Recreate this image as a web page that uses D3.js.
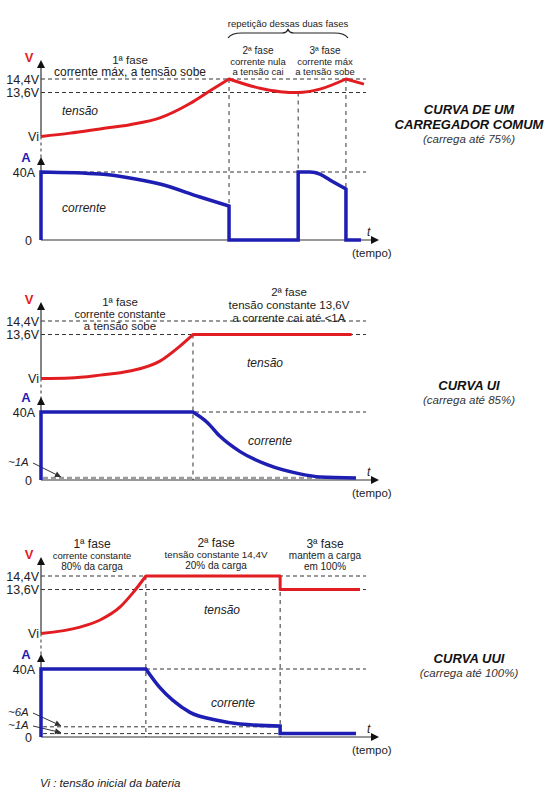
<!DOCTYPE html>
<html><head><meta charset="utf-8">
<script src="https://cdn.jsdelivr.net/npm/d3@7"></script>
<style>
body{margin:0;background:#fff}
svg{display:block}
text{font-family:"Liberation Sans",Arial,sans-serif;fill:#222}
</style>
</head><body><svg id="c" width="544" height="800"></svg>
<script>
// ---------------- DATA ----------------
const VI = 11.0; // initial battery voltage (schematic)
const voltageTickValues = [14.4, 13.6, VI];
const voltageTickLabels = ["14,4V", "13,6V", "Vi"];
const currentTickValues = [40, 0];
const currentTickLabels = ["40A", "0"];

// Panel 1: common charger  (time 0..100, voltage V, current A)
const p1Voltage = [
  [[0,11.0],[8.7,11.2],[17.7,11.45],[26.6,11.7],[35.6,12.1],[44.6,12.95],[50.6,13.7],[56.3,14.4]],
  [[56.3,14.4],[65.6,13.85],[71.6,13.65],[77,13.6],[83.5,13.8],[91.3,14.4]],
  [[91.3,14.4],[96.7,14.1]]
];
const p1Current = [
  [[0,0],[0,40]],
  [[0,40],[17.7,38.8],[26.6,36.5],[35.6,32.9],[47.6,25.3],[56.3,20]],
  [[56.3,0],[77,0]],
  [[77,40],[80.5,40],[83.5,38.8],[86.5,35.3],[91.3,30]],
  [[91.3,0],[95.8,0]]
];
const p1Phases = [56.3, 77, 91.3];
const p1PhaseTopV = [14.4, 13.6, 14.4];

// Panel 2: UI curve
const p2Voltage = [
  [[0,11.0],[8.7,11.03],[17.7,11.2],[26.6,11.44],[35.6,12.03],[41.6,12.92],[45.5,13.6]],
  [[45.5,13.6],[93,13.6]]
];
const p2Current = [
  [[0,0],[0,40]],
  [[0,40],[45.5,40]],
  [[45.5,40],[49.7,34],[53.6,25.7],[59.6,16.7],[67.7,9],[77.5,3.6],[83.5,1.8],[94.3,1.2]]
];
const p2Phases = [45.5];
const p2PhaseTopV = [13.6];
const p2GuideValues = [1.2];
const p2GuideLabels = ["~1A"];

// Panel 3: UUI curve
const p3Voltage = [
  [[0,11.0],[11.7,11.38],[17.7,11.8],[23.7,12.57],[27.5,13.4],[31.4,14.4]],
  [[31.4,14.4],[71.6,14.4]],
  [[71.6,13.6],[95.5,13.6]]
];
const p3Current = [
  [[0,0],[0,40]],
  [[0,40],[31.4,40]],
  [[31.4,40],[35.6,29],[39.5,21.5],[44.6,14.5],[52.7,9.9],[59.6,7.6],[71.6,6.4]],
  [[71.6,2],[94.3,2]]
];
const p3Phases = [31.4, 71.6];
const p3PhaseTopV = [14.4, 14.4];
const p3GuideValues = [6, 2];
const p3GuideLabels = ["~6A", "~1A"];

// Texts
const p1GroupText = "repetição dessas duas fases";
const p1PhaseText = [["1ª fase","corrente máx, a tensão sobe"],["2ª fase","corrente nula","a tensão cai"],["3ª fase","corrente máx","a tensão sobe"]];
const p2PhaseText = [["1ª fase","corrente constante","a tensão sobe"],["2ª fase","tensão constante 13,6V","a corrente cai até <1A"]];
const p3PhaseText = [["1ª fase","corrente constante","80% da carga"],["2ª fase","tensão constante 14,4V","20% da carga"],["3ª fase","mantem  a carga","em 100%"]];
const titleText = [["CURVA DE UM","CARREGADOR COMUM","(carrega até 75%)"],["CURVA UI","(carrega até 85%)"],["CURVA UUI","(carrega até 100%)"]];
const seriesNames = ["tensão","corrente"];
const footnote = "Vi : tensão inicial da bateria";

// ---------------- DRAW ----------------
const svg = d3.select("#c");
const RED = "#e21d22", BLUE = "#1e1eb2", AX = "#333";
const x = d3.scaleLinear().domain([0,100]).range([41,375]);

function segPath(segs, y) {
  const line = d3.line().x(d=>x(d[0])).y(d=>y(d[1])).curve(d3.curveMonotoneX);
  return segs.map((s,i)=>{const d=line(s); return i ? "L"+d.slice(1) : d;}).join("");
}
function dashH(g, y, x0, x1, opts={}) {
  g.append("line").attr("x1",x0).attr("x2",x1).attr("y1",y).attr("y2",y)
    .attr("stroke",opts.color||AX).attr("stroke-width",opts.w||1)
    .attr("stroke-dasharray",opts.dash||"4,3");
}
function tri(g, cx, cy, dir) {
  const p = dir==="up" ? [[cx,cy],[cx-4,cy+8],[cx+4,cy+8]] : [[cx,cy],[cx-8,cy-4],[cx-8,cy+4]];
  g.append("path").attr("d","M"+p.map(q=>q.join(",")).join("L")+"Z").attr("fill","#111");
}
function textBlock(g, cx, baselines, sizes, lines, anchor="middle") {
  lines.forEach((t,i)=>{
    g.append("text").attr("x",cx).attr("y",baselines[i]).attr("text-anchor",anchor)
      .attr("font-size",sizes[i]).text(t);
  });
}
function arrowLine(g, x0, y0, x1, y1) {
  g.append("line").attr("x1",x0).attr("y1",y0).attr("x2",x1).attr("y2",y1).attr("stroke","#333").attr("stroke-width",1);
  const ang = Math.atan2(y1-y0, x1-x0), L = 6, W = 3;
  const bx = x1 - L*Math.cos(ang), by = y1 - L*Math.sin(ang);
  const px = -Math.sin(ang)*W, py = Math.cos(ang)*W;
  g.append("path").attr("d",`M${x1},${y1}L${bx+px},${by+py}L${bx-px},${by-py}Z`).attr("fill","#333");
}

const panels = [
  {top:79, zero:240, volt:p1Voltage, cur:p1Current, phases:p1Phases, phaseTop:p1PhaseTopV, guides:[], guideLabels:[], guideEnd:97.3},
  {top:321, zero:480, volt:p2Voltage, cur:p2Current, phases:p2Phases, phaseTop:p2PhaseTopV, guides:p2GuideValues, guideLabels:p2GuideLabels, guideEnd:94.3},
  {top:576, zero:737, volt:p3Voltage, cur:p3Current, phases:p3Phases, phaseTop:p3PhaseTopV, guides:p3GuideValues, guideLabels:p3GuideLabels, guideEnd:71.6}
];

panels.forEach((P, pi) => {
  const g = svg.append("g");
  const yV = d3.scaleLinear().domain([VI, 14.4]).range([P.top+57.5, P.top]);
  const yA = d3.scaleLinear().domain([0, 40]).range([P.zero, P.zero-68]);
  const xEnd = x(97.3);

  dashH(g, yV(14.4), x(0), xEnd);
  dashH(g, yV(13.6), x(0), xEnd);
  dashH(g, yA(40), x(0), xEnd);
  P.guides.forEach((v,i)=>{
    if (pi===1) dashH(g, yA(v), x(0)+2, x(P.guideEnd), {color:"#9a9a9a", w:2.2, dash:"5,3"});
    else dashH(g, yA(v), x(0)+2, x(P.guideEnd));
  });
  P.phases.forEach((t,i)=>{
    g.append("line").attr("x1",x(t)).attr("x2",x(t)).attr("y1",yV(P.phaseTop[i])).attr("y2",P.zero)
      .attr("stroke",AX).attr("stroke-width",1).attr("stroke-dasharray","4,4");
  });

  const vTip = P.top-19, aTip = yA(40)-15;
  g.append("line").attr("x1",x(0)).attr("x2",x(0)).attr("y1",vTip+6).attr("y2",yV(VI)).attr("stroke",AX).attr("stroke-width",1.2);
  g.append("line").attr("x1",x(0)).attr("x2",x(0)).attr("y1",yV(VI)).attr("y2",aTip+4).attr("stroke",AX).attr("stroke-width",1).attr("stroke-dasharray","3,3");
  g.append("line").attr("x1",x(0)).attr("x2",x(0)).attr("y1",aTip+6).attr("y2",P.zero).attr("stroke",AX).attr("stroke-width",1.2);
  g.append("line").attr("x1",x(0)).attr("x2",372).attr("y1",P.zero).attr("y2",P.zero).attr("stroke",AX).attr("stroke-width",1.2);
  tri(g, x(0), vTip, "up");
  tri(g, x(0), aTip, "up");
  tri(g, 379, P.zero, "right");

  const axV = g.append("g").attr("transform",`translate(${x(0)-2},0)`)
    .call(d3.axisLeft(yV).tickValues(voltageTickValues).tickFormat((d,i)=>voltageTickLabels[i]).tickSize(0).tickPadding(0));
  const axA = g.append("g").attr("transform",`translate(${x(0)-6},0)`)
    .call(d3.axisLeft(yA).tickValues(currentTickValues).tickFormat((d,i)=>currentTickLabels[i]).tickSize(0).tickPadding(0));
  [axV, axA].forEach(a=>{
    a.select(".domain").remove();
    a.selectAll("text").attr("font-size",12.5).attr("fill","#333").attr("font-family","Liberation Sans, Arial, sans-serif");
  });
  axA.selectAll(".tick").filter(d=>d===0).select("text").attr("dx",-3);

  g.append("text").attr("x",29).attr("y",P.top-17).attr("text-anchor","middle").attr("font-size",13).attr("font-weight","bold").style("fill",RED).text("V");
  g.append("text").attr("x",26).attr("y",yA(40)-10).attr("text-anchor","middle").attr("font-size",13).attr("font-weight","bold").style("fill",BLUE).text("A");
  g.append("text").attr("x",367).attr("y",P.zero-4).attr("font-size",12).attr("font-style","italic").text("t");
  g.append("text").attr("x",352).attr("y",P.zero+17).attr("font-size",11.5).text("(tempo)");

  P.guideLabels.forEach((lab,i)=>{
    const ly = pi===1 ? 466 : (i===0 ? 716 : 729);
    g.append("text").attr("x",8).attr("y",ly).attr("font-size",11.5).attr("font-style","italic").text(lab);
    arrowLine(g, 33, ly-3, 61, yA(P.guides[i])-1);
  });

  g.append("path").attr("d",segPath(P.volt,yV)).attr("fill","none").attr("stroke",RED).attr("stroke-width",3).attr("stroke-linejoin","round");
  g.append("path").attr("d",segPath(P.cur,yA)).attr("fill","none").attr("stroke",BLUE).attr("stroke-width",3.5).attr("stroke-linejoin","miter");
});

// ----- annotations -----
const A = svg.append("g");
A.append("text").attr("x",288).attr("y",27).attr("text-anchor","middle").attr("font-size",9.5).text(p1GroupText);
{
  const l = x(p1Phases[0])-1, r = x(p1Phases[2])+2, m = (l+r)/2, y = 33;
  A.append("path").attr("d",`M${l},${y+5}Q${l+3},${y} ${l+14},${y}L${m-6},${y}Q${m-1},${y} ${m},${y-4}Q${m+1},${y} ${m+6},${y}L${r-14},${y}Q${r-3},${y} ${r},${y+5}`)
    .attr("fill","none").attr("stroke","#222").attr("stroke-width",1.2);
}
textBlock(A, 130, [64, 76], [11.5, 12], p1PhaseText[0]);
textBlock(A, 258, [54, 64.5, 75], [10, 9.5, 9.5], p1PhaseText[1]);
textBlock(A, 325, [54, 64.5, 75], [10, 9.5, 9.5], p1PhaseText[2]);
A.append("text").attr("x",62).attr("y",115).attr("font-size",12).attr("font-style","italic").text(seriesNames[0]);
A.append("text").attr("x",62).attr("y",212).attr("font-size",12).attr("font-style","italic").text(seriesNames[1]);
textBlock(A, 120, [306, 318, 330], [11.5, 11, 11.5], p2PhaseText[0]);
textBlock(A, 289, [295.5, 308.5, 321.5], [11.5, 11.5, 11.5], p2PhaseText[1]);
A.append("text").attr("x",265).attr("y",367).attr("text-anchor","middle").attr("font-size",12).attr("font-style","italic").text(seriesNames[0]);
A.append("text").attr("x",270).attr("y",445).attr("text-anchor","middle").attr("font-size",12).attr("font-style","italic").text(seriesNames[1]);
textBlock(A, 92, [548, 558.5, 570], [12, 9.5, 10], p3PhaseText[0]);
textBlock(A, 216, [547, 557.5, 569], [12, 9.8, 10], p3PhaseText[1]);
textBlock(A, 325, [548, 558.5, 570], [12, 10, 10], p3PhaseText[2]);
A.append("text").attr("x",222).attr("y",614).attr("text-anchor","middle").attr("font-size",12).attr("font-style","italic").text(seriesNames[0]);
A.append("text").attr("x",233).attr("y",707).attr("text-anchor","middle").attr("font-size",12).attr("font-style","italic").text(seriesNames[1]);

function title(lines, baselines) {
  lines.forEach((t,i)=>{
    const isMain = i < lines.length-1;
    A.append("text").attr("x",469).attr("y",baselines[i]).attr("text-anchor","middle")
      .attr("font-size", isMain ? 13 : 11.5).attr("font-style","italic")
      .attr("font-weight", isMain ? "bold" : "normal").style("fill", isMain ? "#111" : "#333").text(t);
  });
}
title(titleText[0], [113.5, 128.5, 142.5]);
title(titleText[1], [390, 404]);
title(titleText[2], [663, 677]);

A.append("text").attr("x",40).attr("y",787).attr("font-size",11.5).attr("font-style","italic").text(footnote);
</script>
</body></html>
